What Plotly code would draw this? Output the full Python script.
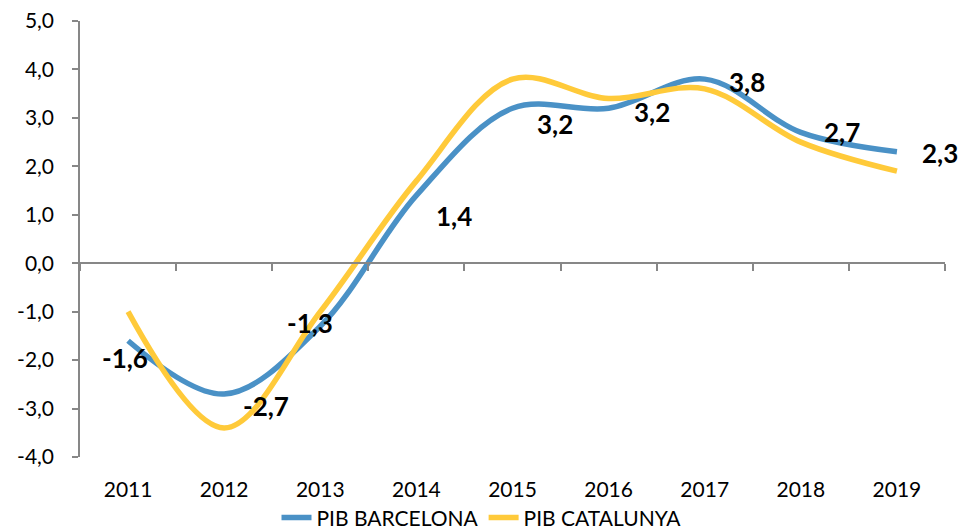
import plotly.graph_objects as go

years = ["2011", "2012", "2013", "2014", "2015", "2016", "2017", "2018", "2019"]
pib_barcelona = [-1.6, -2.7, -1.3, 1.4, 3.2, 3.2, 3.8, 2.7, 2.3]
pib_catalunya = [-1.0, -3.4, -1.0, 1.7, 3.8, 3.4, 3.6, 2.5, 1.9]
y_ticks = [-4, -3, -2, -1, 0, 1, 2, 3, 4, 5]
y_ticktext = [f"{v:.1f}".replace(".", ",") for v in y_ticks]

# label offsets (pixels) for the Barcelona data labels
label_dx = [-3, 42, -10, 38, 42, 43, 42, 41, 43]
label_dy = [-17, -12, 3, -21, -16, -4, -3, 0, -1]

BLUE = "#4a91c6"
YELLOW = "#ffca3a"
AXIS = "#878787"
FONT = "Lato"

n = len(years)
boundaries = [i - 0.5 for i in range(n + 1)]

fig = go.Figure()
fig.add_trace(go.Scatter(
    x=years, y=pib_barcelona, name="PIB BARCELONA", mode="lines",
    line=dict(color=BLUE, width=5.5, shape="spline", smoothing=1.0),
))
fig.add_trace(go.Scatter(
    x=years, y=pib_catalunya, name="PIB CATALUNYA", mode="lines",
    line=dict(color=YELLOW, width=5.5, shape="spline", smoothing=1.0),
))
# invisible helper trace so the zero-crossing axis (x2) is drawn
fig.add_trace(go.Scatter(
    x=boundaries, y=[0] * len(boundaries), xaxis="x2", yaxis="y",
    mode="markers", marker=dict(opacity=0), hoverinfo="skip", showlegend=False,
))

for i, (yr, v, dx, dy) in enumerate(zip(years, pib_barcelona, label_dx, label_dy)):
    fig.add_annotation(
        x=i, y=v, xref="x2", yref="y",
        text="<b>" + f"{v:.1f}".replace(".", ",") + "</b>",
        showarrow=False, xshift=dx, yshift=dy,
        font=dict(family=FONT, size=26, color="#000000"),
    )

fig.update_layout(
    width=963, height=531,
    margin=dict(l=80, r=18, t=21, b=74, autoexpand=False),
    paper_bgcolor="white", plot_bgcolor="white",
    font=dict(family=FONT, size=21, color="#000000"),
    showlegend=True,
    legend=dict(
        orientation="h", xref="container", yref="container",
        x=0.5, xanchor="center", y=0.025, yanchor="middle",
        font=dict(family=FONT, size=21, color="#000000"),
        itemwidth=30, traceorder="normal",
        bgcolor="rgba(0,0,0,0)",
    ),
    xaxis=dict(
        type="category", range=[-0.5, n - 0.5], automargin=False,
        showline=False, showgrid=False, zeroline=False,
        ticks="", ticklabelstandoff=18,
        tickfont=dict(family=FONT, size=21, color="#000000"),
    ),
    xaxis2=dict(
        overlaying="x", anchor="free", position=4 / 9, automargin=False,
        range=[-0.5, n - 0.5], tickvals=boundaries,
        showticklabels=False, ticks="outside", ticklen=7,
        tickcolor=AXIS, tickwidth=1.5,
        showline=True, linecolor=AXIS, linewidth=1.5,
        showgrid=False, zeroline=False,
    ),
    yaxis=dict(
        domain=[0, 1], range=[-4, 5], tickvals=y_ticks, ticktext=y_ticktext,
        automargin=False,
        showline=True, linecolor=AXIS, linewidth=1.5,
        ticks="outside", ticklen=6, tickcolor=AXIS, tickwidth=1.5,
        showgrid=False, zeroline=False, ticklabelstandoff=14,
        tickfont=dict(family=FONT, size=21, color="#000000"),
    ),
)

fig.write_html(
    "out.html",
    config={"displayModeBar": False},
    post_script="document.body.style.margin='0';",
)
